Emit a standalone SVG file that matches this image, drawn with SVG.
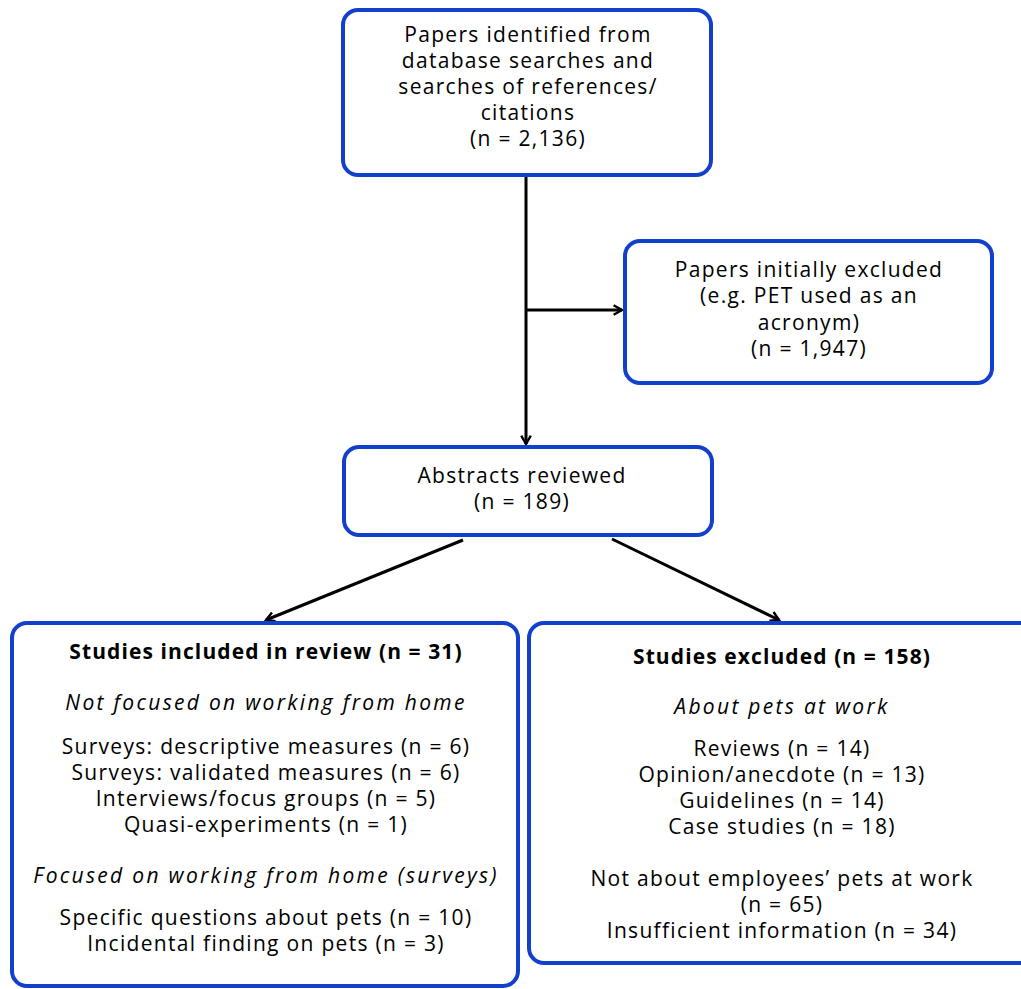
<svg xmlns="http://www.w3.org/2000/svg" width="1021" height="989" viewBox="0 0 1021 989">
<defs>
<style>
.box{fill:#fff;stroke:#1240cc;stroke-width:4}
text{font-family:"Open Sans","DejaVu Sans",sans-serif;font-size:21px;fill:#000;text-anchor:middle;letter-spacing:1.3px}
.b{font-weight:bold;letter-spacing:1.1px}
.i{font-style:italic;letter-spacing:2.3px}
.c{stroke:#000;stroke-width:3;fill:none;marker-end:url(#ah)}
</style>
<marker id="ah" viewBox="0 0 10 10" refX="8" refY="5" markerWidth="4" markerHeight="4" orient="auto" markerUnits="strokeWidth">
<path d="M1,1 L8,5 L1,9" fill="none" stroke="#000" stroke-width="2"/>
</marker>
</defs>
<rect width="1021" height="989" fill="#fff"/>
<g id="connectors">
<line class="c" x1="526" y1="175" x2="526" y2="444"/>
<line class="c" x1="526" y1="310" x2="622" y2="310"/>
<line class="c" x1="463" y1="540" x2="266" y2="620"/>
<line class="c" x1="612" y1="539" x2="779" y2="620"/>
</g>
<g id="n1">
<rect class="box" x="343" y="10" width="368" height="165" rx="15"/>
<text x="528" y="42">Papers identified from</text>
<text x="528" y="68">database searches and</text>
<text x="528" y="94">searches of references/</text>
<text x="528" y="120">citations</text>
<text x="528" y="146">(n = 2,136)</text>
</g>
<g id="n2">
<rect class="box" x="625" y="241" width="367" height="142" rx="15"/>
<text x="809" y="277">Papers initially excluded</text>
<text x="809" y="303">(e.g. PET used as an</text>
<text x="809" y="330">acronym)</text>
<text x="809" y="356">(n = 1,947)</text>
</g>
<g id="n3">
<rect class="box" x="344" y="447" width="368" height="88" rx="15"/>
<text x="522" y="483">Abstracts reviewed</text>
<text x="522" y="509">(n = 189)</text>
</g>
<g id="n4">
<rect class="box" x="12" y="623" width="506" height="363" rx="15"/>
<text class="b" x="266" y="659">Studies included in review (n = 31)</text>
<text class="i" x="266" y="710">Not focused on working from home</text>
<text x="266" y="754">Surveys: descriptive measures (n = 6)</text>
<text x="266" y="780">Surveys: validated measures (n = 6)</text>
<text x="266" y="806">Interviews/focus groups (n = 5)</text>
<text x="266" y="832">Quasi-experiments (n = 1)</text>
<text class="i" x="266" y="883">Focused on working from home (surveys)</text>
<text x="266" y="925">Specific questions about pets (n = 10)</text>
<text x="266" y="951">Incidental finding on pets (n = 3)</text>
</g>
<g id="n5">
<rect class="box" x="529" y="623" width="510" height="340" rx="15"/>
<text class="b" x="782" y="664">Studies excluded (n = 158)</text>
<text class="i" x="782" y="714">About pets at work</text>
<text x="782" y="756">Reviews (n = 14)</text>
<text x="782" y="782">Opinion/anecdote (n = 13)</text>
<text x="782" y="808">Guidelines (n = 14)</text>
<text x="782" y="834">Case studies (n = 18)</text>
<text x="782" y="886">Not about employees’ pets at work</text>
<text x="782" y="912">(n = 65)</text>
<text x="782" y="938">Insufficient information (n = 34)</text>
</g>
</svg>
